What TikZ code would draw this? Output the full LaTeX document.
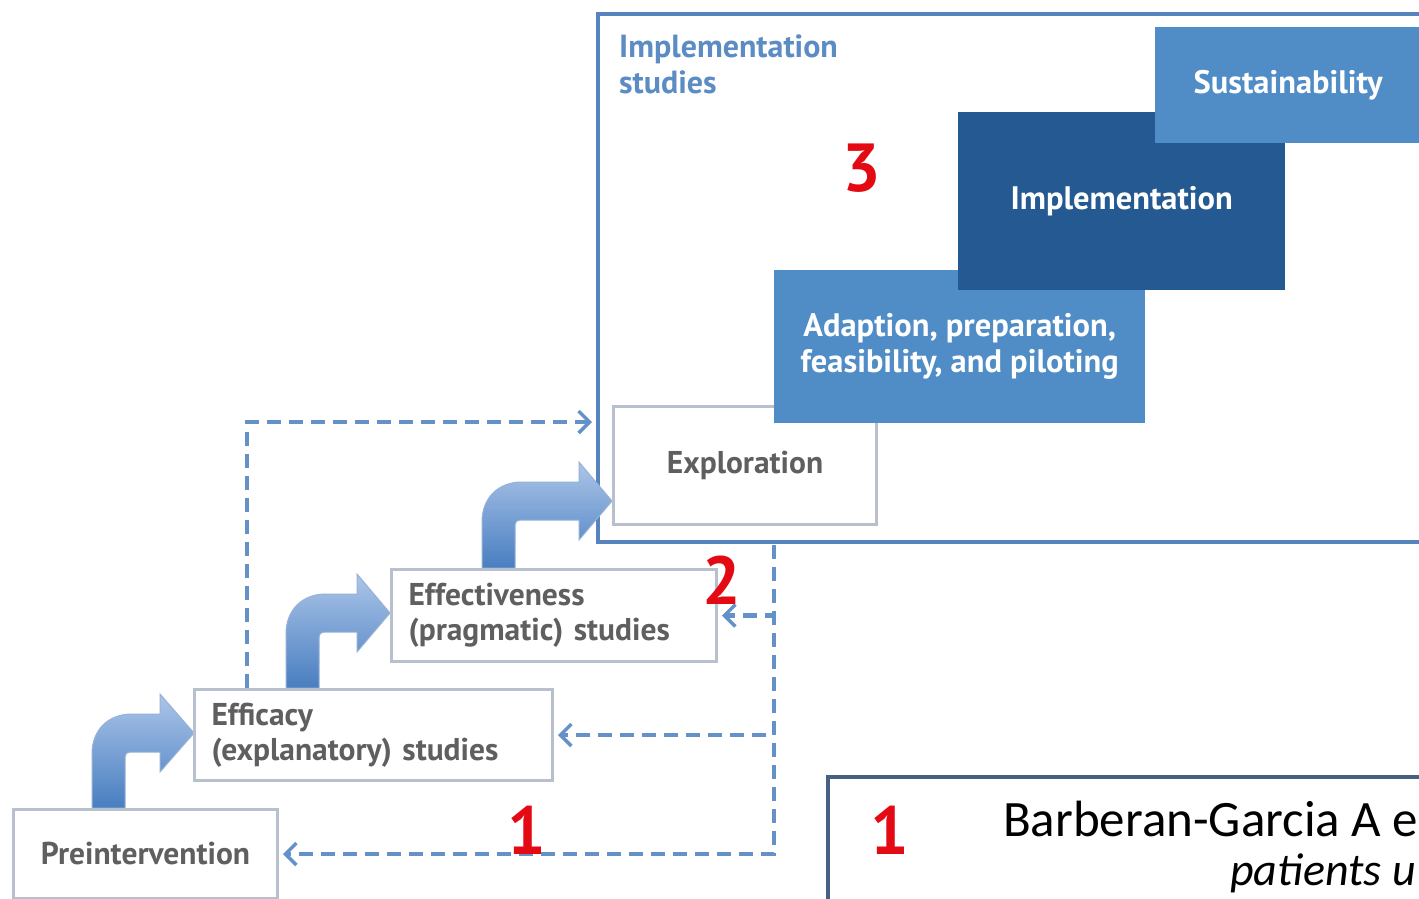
\documentclass[tikz,border=0pt]{standalone}
\usepackage{fontspec}
\setmainfont{PT Sans}
\newfontfamily\citefont{Carlito}
\usetikzlibrary{arrows.meta,calc}

\definecolor{frameblue}{RGB}{88,132,190}
\definecolor{labelblue}{RGB}{92,140,196}
\definecolor{stepmid}{RGB}{80,140,198}
\definecolor{stepdark}{RGB}{36,90,145}
\definecolor{boxline}{RGB}{185,192,205}
\definecolor{txtgray}{RGB}{95,95,95}
\definecolor{dashblue}{RGB}{100,145,200}
\definecolor{numred}{RGB}{228,10,20}
\definecolor{refframe}{RGB}{70,95,130}
\definecolor{arrowlight}{RGB}{172,197,233}
\definecolor{arrowdark}{RGB}{72,126,192}
\definecolor{arrowedge}{RGB}{150,178,215}

% bent block arrow: stem left x, stem bottom y, band centre y, head base x, tip x
\newcommand\bentarrow[5]{%
  \shade[top color=arrowlight, bottom color=arrowdark, draw=arrowedge, line width=1]
    ({#1},{#2}) -- ({#1},{#3-19+40})
    .. controls ({#1},{#3-19+16}) and ({#1+16},{#3-19}) .. ({#1+40},{#3-19})
    -- ({#4},{#3-19}) -- ({#4},{#3-39}) -- ({#5},{#3}) -- ({#4},{#3+39})
    -- ({#4},{#3+19}) -- ({#1+33+5},{#3+19})
    .. controls ({#1+33+2},{#3+19}) and ({#1+33},{#3+19+2}) .. ({#1+33},{#3+19+5})
    -- ({#1+33},{#2}) -- cycle;}

\tikzset{
  graybox/.style={draw=boxline, line width=3, fill=white, anchor=north west,
    inner xsep=17, inner ysep=0, text=txtgray,
    font=\bfseries\fontsize{31.5}{35}\selectfont},
  stepbox/.style={anchor=north west, inner sep=0, text=white, align=center,
    font=\bfseries\fontsize{32.5}{36}\selectfont},
  bigframe/.style={draw=frameblue, line width=4, anchor=north west, inner sep=0},
  feedback/.style={draw=dashblue, line width=4.5, dash pattern=on 14pt off 8pt,
    -{Straight Barb[length=11pt,width=22pt,line width=3.5pt]}, shorten >=4},
  num/.style={text=numred, font=\bfseries\fontsize{68}{70}\selectfont, inner sep=0},
}

\begin{document}
\begin{tikzpicture}[x=1pt,y=-1pt]
\useasboundingbox (0,0) rectangle (1419,898);
\clip (0,0) rectangle (1419,898);
\fill[white] (0,0) rectangle (1419,898);

% implementation studies frame and its steps
\node[bigframe, minimum width=900, minimum height=528] (impl) at (596,12) {};
\node[anchor=north west, inner sep=0, align=left, text=labelblue,
  font=\bfseries\fontsize{32}{36}\selectfont] (impllabel) at (619,35) {Implementation\\studies};

% bent block arrows climbing the steps
\bentarrow{92}{808}{733}{160}{194}
\bentarrow{286}{688}{613}{357}{390}
\bentarrow{482}{568}{501}{579}{612}

% feedback loop back to the implementation frame
\coordinate (loopstart) at (247,688);
\coordinate (loopend) at (596,422);
\draw[feedback] (loopstart) |- (loopend);

% research stages
\node[graybox, minimum width=264, minimum height=89, align=center] (pre) at (12,808) {Preintervention};
\node[graybox, minimum width=358, minimum height=91, text width=324, align=left] (efc) at (193,688) {Efficacy\\(explanatory) studies};
\node[graybox, minimum width=325, minimum height=92, text width=291, align=left] (eff) at (390,568) {Effectiveness\\(pragmatic) studies};
\node[graybox, minimum width=263, minimum height=118, align=center] (expl) at (612,405) {Exploration};

\node[stepbox, fill=stepmid, minimum width=371, minimum height=153] (adapt) at (774,270) {Adaption, preparation,\\feasibility, and piloting};
\node[stepbox, fill=stepdark, minimum width=327, minimum height=178] (implem) at (958,112) {Implementation};
\node[stepbox, fill=stepmid, minimum width=266, minimum height=116] (sustain) at (1155,27) {Sustainability};

% dashed returns from implementation to earlier stages
\coordinate (trunk) at (774,545);
\draw[feedback] (trunk) |- (pre.east);
\draw[feedback] (trunk) |- (efc.east);
\draw[feedback] (trunk) |- (eff.east);

% stage numbers
\node[num] (n3) at (862,168) {3};
\node[num] (n2) at (722,580) {2};
\node[num] (n1) at (527,830) {1};

% reference panel
\node[draw=refframe, line width=4, anchor=north west, minimum width=700, minimum height=200, inner sep=0] (ref) at (826,775) {};
\node[num] (refnum) at (890,830) {1};
\node[anchor=base west, inner sep=0, font=\citefont\fontsize{51}{55}\selectfont] (cite) at (1003,836) {Barberan-Garcia A e};
\node[anchor=base east, inner sep=0, font=\citefont\itshape\fontsize{46}{50}\selectfont] (citeb) at (1416,885) {patients u};
\end{tikzpicture}
\end{document}
